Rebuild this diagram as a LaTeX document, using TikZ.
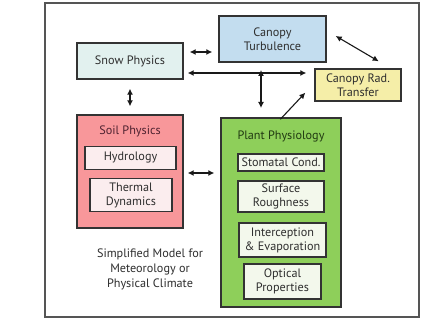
\documentclass[tikz,border=0pt]{standalone}
\usepackage{fontspec}
\setmainfont{PT Sans}
\usetikzlibrary{arrows.meta}
\definecolor{framegray}{HTML}{555555}
\definecolor{edgegray}{HTML}{333333}
\definecolor{snowfill}{HTML}{E2F1EF}
\definecolor{turbfill}{HTML}{C3DDEF}
\definecolor{radfill}{HTML}{F5EEA8}
\definecolor{soilfill}{HTML}{F8979A}
\definecolor{soilinner}{HTML}{FBEDEE}
\definecolor{soiltext}{HTML}{4E2230}
\definecolor{plantfill}{HTML}{8ECF5A}
\definecolor{plantinner}{HTML}{F3F8EC}
\definecolor{planttext}{HTML}{213A12}
\definecolor{bodytext}{HTML}{2E2E2E}
\tikzset{
  x=1pt, y=-1pt,
  lbl/.style={font=\fontsize{12.2}{14}\selectfont},
  box/.style={draw=edgegray, line width=1.4pt, inner sep=0pt, align=center,
              lbl, text=bodytext},
  subbox/.style={box, line width=1.2pt},
  link/.style={line width=1.1pt, draw=black!90, {Latex[length=6pt,width=6pt]}-{Latex[length=6pt,width=6pt]}},
  onelink/.style={line width=1.1pt, draw=black!90, -{Latex[length=6pt,width=6pt]}},
}
\begin{document}
\begin{tikzpicture}
\useasboundingbox (0,0) rectangle (423,320);
\fill[white] (0,0) rectangle (423,320);
% outer frame
\draw[framegray, line width=1.5pt] (45,3) rectangle (419,317);

% top row
\node[box, fill=snowfill, minimum width=106pt, minimum height=36pt] (snow) at (130,61) {Snow Physics};
\node[box, fill=turbfill, minimum width=107pt, minimum height=46pt] (turb) at (272.5,39) {Canopy\\Turbulence};
\node[box, fill=radfill, minimum width=86pt, minimum height=32pt] (rad) at (358,85) {Canopy Rad.\\Transfer};

% soil physics group
\node[box, fill=soilfill, minimum width=106pt, minimum height=113pt] (soil) at (130,171.5) {};
\node[text=soiltext, lbl] (soiltitle) at (130,131) {Soil Physics};
\node[subbox, fill=soilinner, minimum width=91pt, minimum height=23pt] (hydro) at (130.5,158) {Hydrology};
\node[subbox, fill=soilinner, minimum width=82pt, minimum height=33pt] (thermal) at (131,195) {Thermal\\Dynamics};

% plant physiology group
\node[box, fill=plantfill, minimum width=120pt, minimum height=189pt] (plant) at (281,212.5) {};
\node[text=planttext, lbl] (planttitle) at (281,136) {Plant Physiology};
\node[subbox, fill=plantinner, minimum width=86pt, minimum height=17pt] (stoma) at (281,162.5) {Stomatal Cond.};
\node[subbox, fill=plantinner, minimum width=86pt, minimum height=31pt] (rough) at (281,196.5) {Surface\\Roughness};
\node[subbox, fill=plantinner, minimum width=87pt, minimum height=34pt] (intercept) at (282.5,240) {Interception\\\&~Evaporation};
\node[subbox, fill=plantinner, minimum width=77pt, minimum height=35pt] (optical) at (282.5,281.5) {Optical\\Properties};

% caption
\node[align=center, text=bodytext, font=\fontsize{12.2}{15}\selectfont] (caption) at (150,269)
  {Simplified Model for\\Meteorology or\\Physical Climate};

% connectors
\draw[link] ([xshift=6pt]snow.east |- 0,52) -- ([xshift=-6pt]turb.west |- 0,52);
\draw[link] ([xshift=4pt]snow.east |- 0,73) -- ([xshift=-8pt]rad.west |- 0,73);
\coordinate (vtop) at (261,70);
\coordinate (vbot) at (261,108);
\draw[link] (vtop) -- (vbot);
\draw[link] ([yshift=-9pt]snow.south) -- ([yshift=8pt]soil.north);
\draw[link] ([xshift=9pt]turb.east |- 0,36) -- ([xshift=-23pt,yshift=7pt]rad.north east);
\draw[onelink] ([xshift=60pt,yshift=-2pt]plant.north west) -- ([xshift=-9pt,yshift=9pt]rad.south west);
\draw[link] ([xshift=4pt]soil.east |- 0,173) -- ([xshift=-6pt]plant.west |- 0,173);
\end{tikzpicture}
\end{document}
